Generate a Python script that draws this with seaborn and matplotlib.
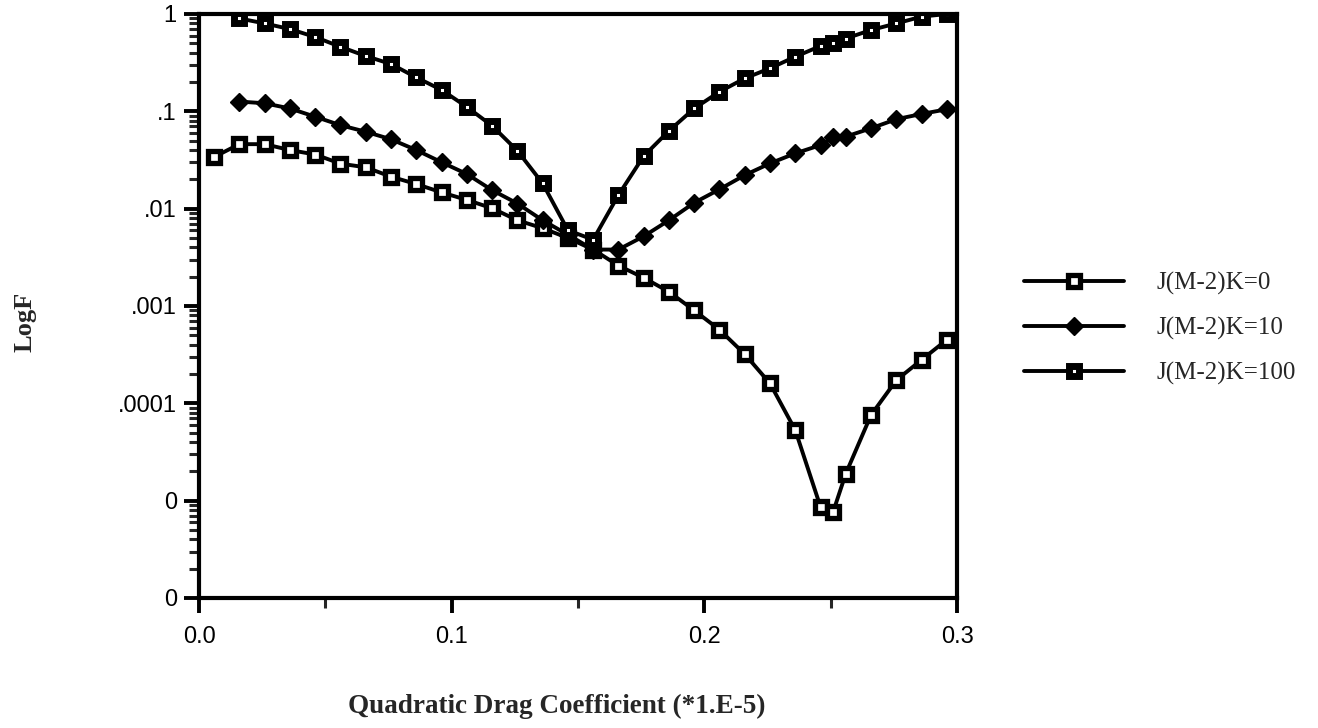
import numpy as np
import pandas as pd
import matplotlib
matplotlib.use("Agg")
import matplotlib.pyplot as plt
import seaborn as sns
from matplotlib.ticker import LogLocator, FixedLocator, FixedFormatter, MultipleLocator

# ---- data ----
x_k0 = [0.006, 0.016, 0.026, 0.036, 0.046, 0.056, 0.066, 0.076, 0.086, 0.096,
        0.106, 0.116, 0.126, 0.136, 0.146, 0.156, 0.166, 0.176, 0.186, 0.196,
        0.206, 0.216, 0.226, 0.236, 0.246, 0.251, 0.256, 0.266, 0.276, 0.286, 0.296]
f_k0 = [0.034, 0.046, 0.046, 0.040, 0.036, 0.029, 0.0266, 0.0213, 0.0179, 0.0147,
        0.0123, 0.0101, 0.0076, 0.0063, 0.0050, 0.0038, 0.0026, 0.00195, 0.0014, 0.00090,
        0.00057, 0.00032, 0.00016, 5.3e-5, 8.6e-6, 7.7e-6, 1.9e-5, 7.6e-5, 1.73e-4, 2.8e-4, 4.5e-4]

x_k10 = [0.016, 0.026, 0.036, 0.046, 0.056, 0.066, 0.076, 0.086, 0.096,
         0.106, 0.116, 0.126, 0.136, 0.146, 0.156, 0.166, 0.176, 0.186, 0.196,
         0.206, 0.216, 0.226, 0.236, 0.246, 0.251, 0.256, 0.266, 0.276, 0.286, 0.296]
f_k10 = [0.126, 0.121, 0.107, 0.088, 0.072, 0.0617, 0.0516, 0.040, 0.030,
         0.0227, 0.0155, 0.0113, 0.0076, 0.0054, 0.0038, 0.0038, 0.0052, 0.0076, 0.0115,
         0.0158, 0.0221, 0.0292, 0.037, 0.045, 0.054, 0.055, 0.067, 0.083, 0.094, 0.105]

x_k100 = x_k10
f_k100 = [0.90, 0.80, 0.70, 0.58, 0.46, 0.37, 0.306, 0.223, 0.166,
          0.111, 0.071, 0.0394, 0.0182, 0.0060, 0.0048, 0.0138, 0.0347, 0.063, 0.107,
          0.159, 0.218, 0.277, 0.364, 0.469, 0.50, 0.56, 0.685, 0.80, 0.94, 1.0]

labels = ["J(M-2)K=0", "J(M-2)K=10", "J(M-2)K=100"]
y_ticks = [1e-6, 1e-5, 1e-4, 1e-3, 1e-2, 1e-1, 1.0]
y_tick_labels = ["0", "0", ".0001", ".001", ".01", ".1", "1"]
x_ticks = [0.0, 0.1, 0.2, 0.3]
x_tick_labels = ["0.0", "0.1", "0.2", "0.3"]

df = pd.concat([
    pd.DataFrame({"x": x_k0, "F": f_k0, "series": labels[0]}),
    pd.DataFrame({"x": x_k10, "F": f_k10, "series": labels[1]}),
    pd.DataFrame({"x": x_k100, "F": f_k100, "series": labels[2]}),
])

sns.set_style("ticks")
plt.rcParams["font.family"] = ["Liberation Sans", "DejaVu Sans"]

fig = plt.figure(figsize=(13.18, 7.28), dpi=100)
ax = fig.add_axes([199/1318, 1 - 598/728, (957-199)/1318, (598-14)/728])

styles = {
    labels[0]: dict(marker="s", markersize=8.0, markerfacecolor="white",
                    markeredgecolor="black", markeredgewidth=3.8),
    labels[1]: dict(marker="D", markersize=9.5, markerfacecolor="black",
                    markeredgecolor="black", markeredgewidth=1),
    labels[2]: dict(marker="s", markersize=6.5, markerfacecolor="white",
                    markeredgecolor="black", markeredgewidth=5.0),
}
for lab in labels:
    sub = df[df["series"] == lab]
    sns.lineplot(data=sub, x="x", y="F", ax=ax, color="black", linewidth=2.8,
                 label=lab, sort=False, estimator=None, **styles[lab])

ax.set_yscale("log")
ax.set_ylim(1e-6, 1.0)
ax.set_xlim(0.0, 0.3)

ax.yaxis.set_major_locator(FixedLocator(y_ticks))
ax.yaxis.set_major_formatter(FixedFormatter(y_tick_labels))
ax.yaxis.set_minor_locator(LogLocator(base=10, subs=np.arange(2, 10), numticks=20))
ax.xaxis.set_major_locator(FixedLocator(x_ticks))
ax.xaxis.set_major_formatter(FixedFormatter(x_tick_labels))
ax.xaxis.set_minor_locator(MultipleLocator(0.05))

ax.tick_params(axis="both", which="major", direction="out", length=11, width=2.8,
               labelsize=17, pad=5, color="black", labelcolor="black")
ax.tick_params(axis="both", which="minor", direction="out", length=7, width=2.2)
ax.tick_params(axis="x", which="major", pad=9)
for sp in ax.spines.values():
    sp.set_visible(True)
    sp.set_linewidth(3.0)
    sp.set_color("black")

ax.set_xlabel("")
ax.set_ylabel("")
fig.text(557/1318, 1 - 706/728, "Quadratic Drag Coefficient (*1.E-5)",
         ha="center", va="center", fontsize=19.5, fontweight="bold",
         family=["Liberation Serif", "DejaVu Serif"])
fig.text(25/1318, 1 - 322/728, "LogF", ha="center", va="center", rotation=90,
         fontsize=19, fontweight="bold", family=["Liberation Serif", "DejaVu Serif"])

ax.get_legend().remove()
handles, labs = ax.get_legend_handles_labels()
leg = fig.legend(handles, labs, loc="upper left",
                 bbox_to_anchor=(1024/1318, 1 - 272/728), frameon=False,
                 prop={"family": "Liberation Serif", "size": 18},
                 handlelength=4.0, handletextpad=1.3, labelspacing=0.88,
                 borderpad=0, borderaxespad=0)

fig.savefig("out.png", dpi=100, facecolor="white")
